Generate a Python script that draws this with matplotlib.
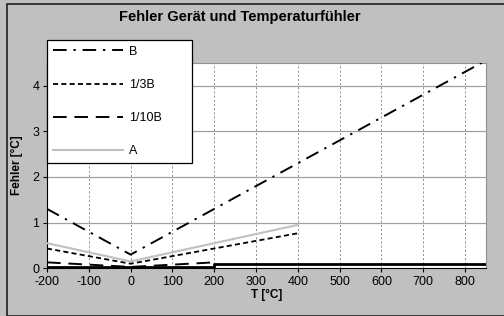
import matplotlib
matplotlib.use("Agg")
import matplotlib.pyplot as plt
from matplotlib.patches import Rectangle

plt.rcParams['font.family'] = ['Liberation Sans', 'DejaVu Sans']
plt.rcParams['axes.unicode_minus'] = False

# data
b_x = [-200, 0, 850]
b_y = [1.3, 0.3, 4.55]
b3_x = [-200, 0, 400]
b3_y = [0.433, 0.1, 0.767]
b10_x = [-200, 0, 200]
b10_y = [0.13, 0.03, 0.13]
a_x = [-200, 0, 400]
a_y = [0.55, 0.15, 0.95]
dev_x = [-200, 200, 200, 850]
dev_y = [0.03, 0.03, 0.1, 0.1]
x_ticks = [-200, -100, 0, 100, 200, 300, 400, 500, 600, 700, 800]
y_ticks = [0, 1, 2, 3, 4]

W, H = 504, 316
fig = plt.figure(figsize=(W/100, H/100), dpi=100)
fig.patch.set_facecolor('#c0c0c0')
fig.patches.append(Rectangle((6.5/W, 0), 1, 1 - 3.5/H, transform=fig.transFigure,
                             fill=False, edgecolor='#202020', linewidth=1.2))

ax = fig.add_axes([47/W, (H-268.3)/H, (486-47)/W, (268.3-62.7)/H])
ax.set_facecolor('white')
ax.set_xlim(-200, 850)
ax.set_ylim(0, 4.5)
ax.set_xticks(x_ticks)
ax.set_yticks(y_ticks)

for x in x_ticks[1:]:
    ax.axvline(x, color='#808080', linewidth=0.6, linestyle=(0, (2.5, 2.5)), zorder=1)
for y in y_ticks[1:]:
    ax.axhline(y, color='#a0a0a0', linewidth=0.9, zorder=1)

lB, = ax.plot(b_x, b_y, color='black', linewidth=1.4, linestyle=(0, (7, 3.5, 1.2, 3.5)), label='B', zorder=4)
l3, = ax.plot(b3_x, b3_y, color='black', linewidth=1.3, linestyle=(0, (2.8, 1.8)), label='1/3B', zorder=4)
l10, = ax.plot(b10_x, b10_y, color='black', linewidth=1.4, linestyle=(0, (7, 4)), label='1/10B', zorder=4)
lA, = ax.plot(a_x, a_y, color='#c0c0c0', linewidth=1.5, label='A', zorder=3)
ax.plot(dev_x, dev_y, color='black', linewidth=2.0, zorder=5)

for s in ['top', 'right']:
    ax.spines[s].set_color('#909090')
    ax.spines[s].set_linewidth(0.8)
for s in ['left', 'bottom']:
    ax.spines[s].set_color('black')
    ax.spines[s].set_linewidth(0.8)

ax.tick_params(axis='both', direction='out', length=3, width=0.8, labelsize=9, pad=2.5)

ax.set_xlabel('T [°C]', fontsize=8.5, fontweight='bold', labelpad=1)
ax.set_ylabel('Fehler [°C]', fontsize=8.5, fontweight='bold', labelpad=7)

fig.text(240/W, 1 - 17/H, 'Fehler Gerät und Temperaturfühler', ha='center', va='center',
         fontsize=10.5, fontweight='bold')

leg = fig.legend(handles=[lB, l3, l10, lA], loc='upper left',
                 bbox_to_anchor=(47/W, 1 - 174/H, (192-47)/W, (174-40)/H),
                 mode='expand', fontsize=9, frameon=True, fancybox=False,
                 edgecolor='black', framealpha=1, handlelength=5.6, handletextpad=0.5,
                 labelspacing=1.7, borderpad=0.45, borderaxespad=0)
leg.get_frame().set_linewidth(0.9)

fig.savefig('out.png', dpi=100, facecolor=fig.get_facecolor())
